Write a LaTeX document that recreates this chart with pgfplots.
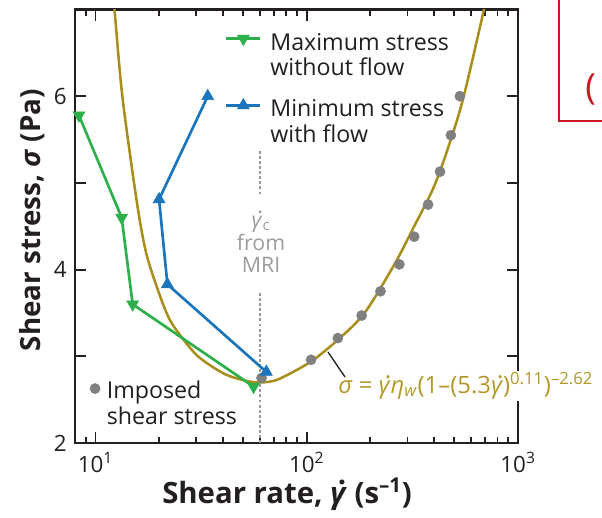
\documentclass[border=0pt]{standalone}
\usepackage{pgfplots}
\pgfplotsset{compat=1.18}
\usepackage{fontspec}
\setmainfont{Open Sans}
\definecolor{axisblack}{RGB}{35,31,32}
\definecolor{mygreen}{RGB}{45,176,75}
\definecolor{myblue}{RGB}{26,117,188}
\definecolor{curveolive}{RGB}{168,142,28}
\definecolor{olivetext}{RGB}{178,152,40}
\definecolor{dotgray}{RGB}{128,128,128}
\definecolor{lightgraytxt}{RGB}{155,155,155}
\definecolor{boxred}{RGB}{200,25,35}
\newcommand{\gd}{\leavevmode\rlap{\hspace{0.26em}\raisebox{0.62em}{.}}\textit{γ}}

\pgfplotstableread{
x y
8.35 5.78
13.3 4.60
15.0 3.60
56 2.65
}\greendata
\pgfplotstableread{
x y
34.0 6.00
20.0 4.81
21.9 3.83
64.4 2.82
}\bluedata
\pgfplotstableread{
x y
61.1 2.75
104.8 2.96
140.3 3.21
181.9 3.47
223.4 3.75
274.3 4.06
322.6 4.38
375.3 4.75
427.4 5.13
481.1 5.55
530.6 6.00
}\graydata
\pgfplotstableread{
x y
11.6 7.6
12.3 7.0
13.4 6.0
15.63 4.81
17.23 4.23
19.2 3.85
22.1 3.457
25.4 3.23
30.9 2.99
41.4 2.79
54.8 2.705
65.8 2.705
75.8 2.75
104.8 2.94
140.3 3.19
187.8 3.50
260.0 4.06
322.6 4.50
400.7 4.96
476.4 5.47
553.6 6.00
690.0 7.00
770.0 7.52
}\curvedata

\begin{document}
\begin{tikzpicture}
\begin{axis}[
  at={(56.25pt,-332.25pt)}, anchor=south west,
  scale only axis, width=332.25pt, height=325.125pt,
  xmode=log, xmin=8, xmax=1000, ymin=2, ymax=7,
  xtick={10,100,1000},
  xticklabels={10\textsuperscript{1},10\textsuperscript{2},10\textsuperscript{3}},
  minor xtick={8,9,20,30,40,50,60,70,80,90,200,300,400,500,600,700,800,900},
  ytick={2,3,4,5,6,7}, yticklabels={2,,4,,6,},
  tick align=inside,
  major tick length=8.5pt, minor tick length=4.5pt,
  axis line style={line width=2pt, axisblack},
  every tick/.style={line width=1.4pt, axisblack},
  tick label style={font=\fontsize{16.8}{18}\selectfont, text=axisblack},
  yticklabel style={inner sep=0pt, xshift=-6pt},
  xticklabel style={inner sep=0pt, yshift=-7pt},
  xlabel={\textbf{Shear rate, \gd{} (s\textsuperscript{–1})}},
  ylabel={\textbf{Shear stress, \textit{σ} (Pa)}},
  xlabel style={font=\fontsize{22}{25}\selectfont, text=axisblack, at={(axis description cs:0.4786,-0.1384)}, anchor=base, inner sep=0pt},
  ylabel style={font=\fontsize{20.8}{23}\selectfont, text=axisblack, at={(axis description cs:-0.079,0.514)}, anchor=base, inner sep=0pt},
  legend cell align=left,
  legend style={at={(axis description cs:0.3386,0.952)}, anchor=north west,
    draw=none, fill=none, inner sep=0pt, outer sep=0pt, row sep=0pt, column sep=4.5pt,
    cells={anchor=base west, inner sep=0pt},
    font=\fontsize{17.4}{20}\selectfont, text=axisblack},
  legend image code/.code={\draw[mark repeat=2,mark phase=2,#1] plot coordinates {(0pt,8.5pt)(12.75pt,8.5pt)(25.5pt,8.5pt)};},
]
\addplot[forget plot, curveolive, line width=1.9pt, smooth, tension=0.5] table[x=x,y=y] {\curvedata};
\addplot[forget plot, only marks, mark=*, mark size=3.8pt, dotgray] table[x=x,y=y] {\graydata};
\addplot[forget plot, lightgraytxt, line width=1.1pt, dash pattern=on 2.2pt off 1.6pt] coordinates {(60,2)(60,3.745)};
\addplot[forget plot, lightgraytxt, line width=1.1pt, dash pattern=on 2.2pt off 1.6pt] coordinates {(60,4.867)(60,5.387)};
\addplot[mygreen, line width=2pt, mark=triangle*, mark size=5.2pt, mark options={rotate=180, solid, line width=0.4pt}] table[x=x,y=y] {\greendata};
\addlegendentry{\rule[-4.75pt]{0pt}{14pt}Maximum stress}
\addlegendimage{empty legend}
\addlegendentry{\rule[-4.75pt]{0pt}{14pt}without flow}
\addlegendimage{empty legend}
\addlegendentry{\rule{0pt}{7.5pt}}
\addplot[myblue, line width=2pt, mark=triangle*, mark size=5.2pt, mark options={solid, line width=0.4pt}] table[x=x,y=y] {\bluedata};
\addlegendentry{\rule[-4.75pt]{0pt}{14pt}Minimum stress}
\addlegendimage{empty legend}
\addlegendentry{\rule{0pt}{14pt}with flow}
\end{axis}
\begin{axis}[
  at={(56.25pt,-332.25pt)}, anchor=south west,
  scale only axis, width=332.25pt, height=325.125pt,
  hide axis, xmin=0, xmax=1, ymin=0, ymax=1,
  legend cell align=left,
  legend style={at={(axis description cs:0.0339,0.1493)}, anchor=north west,
    draw=none, fill=none, inner sep=0pt, outer sep=0pt, row sep=0pt, column sep=3pt,
    cells={anchor=base west, inner sep=0pt},
    font=\fontsize{17.4}{20}\selectfont, text=axisblack},
  legend image code/.code={\draw[#1] plot coordinates {(3.8pt,7.5pt)};},
]
\addlegendimage{only marks, mark=*, mark size=3.8pt, dotgray}
\addlegendentry{\rule[-4.75pt]{0pt}{14pt}Imposed}
\addlegendimage{empty legend}
\addlegendentry{\rule{0pt}{14pt}shear stress}
\end{axis}
\begin{scope}[x=0.75pt,y=-0.75pt]
  \node[text=lightgraytxt, font=\fontsize{16}{18}\selectfont, anchor=base, inner sep=0pt] at (261,227) {\gd\textsubscript{c}};
  \node[text=lightgraytxt, font=\fontsize{16}{18}\selectfont, anchor=base, inner sep=0pt] at (261,250) {from};
  \node[text=lightgraytxt, font=\fontsize{16}{18}\selectfont, anchor=base, inner sep=0pt] at (261,272) {MRI};
  \node[fill=white, inner sep=1.5pt, anchor=base west, text=olivetext, font=\fontsize{17.9}{20}\selectfont] at (336,393)
    {\textit{σ} = \gd\textit{η}\textsubscript{\textit{w}}(1–(5.3\gd)\textsuperscript{0.11})\textsuperscript{–2.62}};
  \draw[axisblack, line width=1pt] (328,352) -- (345,377);
  \draw[boxred, line width=1.3pt] (559,-10) -- (559,121) -- (620,121);
  \node[text=boxred, anchor=base west, font=\fontsize{27}{30}\selectfont, inner sep=0pt] at (585,99) {(};
\end{scope}
\pgfresetboundingbox
\path[use as bounding box] (0,0) rectangle (451.5pt,-387.75pt);
\end{tikzpicture}
\end{document}
